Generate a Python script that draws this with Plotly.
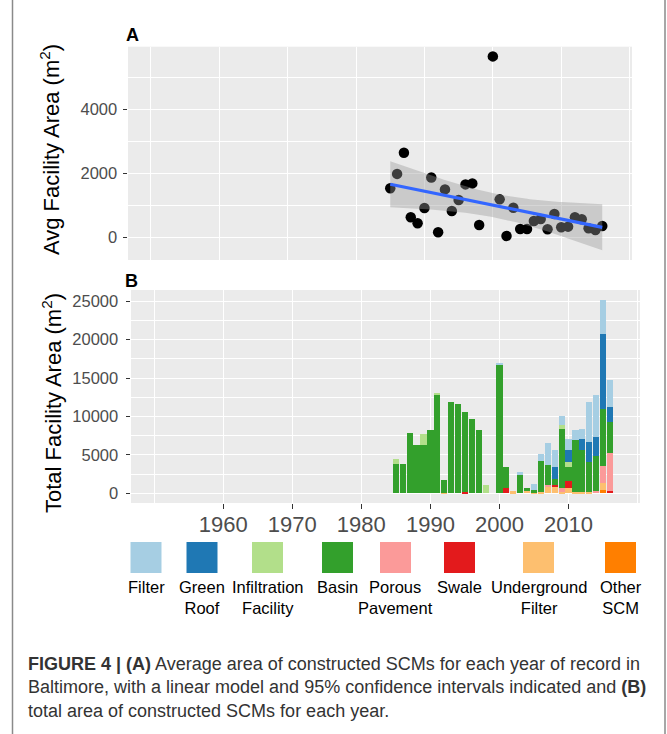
import numpy as np
import plotly.graph_objects as go

# ---------------- data ----------------
# Panel A: average facility area per year (m^2)
avg_years = [1985, 1986, 1987, 1988, 1989, 1990, 1991, 1992, 1993, 1994, 1995, 1996, 1997, 1998,
             2000, 2001, 2002, 2003, 2004, 2005, 2006, 2007, 2008, 2009, 2010, 2011, 2012, 2013,
             2014, 2015, 2016]
avg_area = [1540, 1990, 2650, 635, 448, 925, 1880, 168, 1507, 832, 1175, 1663, 1694, 396,
            5660, 1196, 53, 935, 271, 271, 520, 582, 261, 738, 323, 343, 635, 573,
            292, 240, 364]

# Panel B: total facility area per year by SCM type (m^2)
years = [1985, 1986, 1987, 1988, 1989, 1990, 1991, 1992, 1993, 1994, 1995, 1996, 1997, 1998,
         1999, 2000, 2001, 2002, 2003, 2004, 2005, 2006, 2007, 2008, 2009, 2010, 2011, 2012,
         2013, 2014, 2015, 2016]
filter_area = [0, 0, 0, 0, 0, 0, 0, 0, 0, 0, 0, 0, 0, 0,
               0, 220, 0, 0, 350, 0, 790, 830, 2910, 2260, 1090, 1440, 1300, 1260,
               5130, 5480, 4460, 3500]
green_roof = [0, 0, 0, 0, 0, 0, 0, 0, 0, 0, 0, 0, 0, 0,
              0, 0, 0, 0, 0, 0, 0, 0, 0, 1520, 0, 1520, 0, 1440,
              2610, 2390, 9740, 1960]
infiltration = [650, 0, 0, 0, 1390, 0, 210, 0, 0, 0, 0, 0, 0, 1090,
                0, 0, 0, 0, 0, 0, 0, 0, 0, 0, 560, 650, 0, 0,
                0, 0, 0, 0]
basin = [3830, 3870, 7870, 6300, 6350, 8220, 12830, 1660, 11870, 11610, 10400, 9700, 8260, 0,
         0, 16740, 2740, 0, 2390, 220, 350, 4060, 2610, 780, 7610, 1870, 6740, 5520,
         4000, 4560, 7430, 4040]
porous = [0, 0, 0, 0, 0, 0, 0, 0, 0, 0, 0, 0, 0, 0,
          0, 0, 0, 0, 0, 0, 0, 0, 310, 0, 520, 0, 0, 0,
          0, 350, 2270, 4960]
swale = [0, 0, 0, 0, 0, 0, 0, 0, 0, 0, 170, 0, 0, 0,
         0, 0, 740, 0, 0, 0, 0, 0, 0, 310, 0, 870, 0, 0,
         0, 0, 0, 260]
underground = [0, 0, 0, 0, 0, 0, 0, 80, 0, 0, 0, 0, 0, 0,
               0, 0, 0, 250, 0, 430, 80, 200, 780, 780, 220, 740, 220, 130,
               130, 0, 870, 0]
other_scm = [0, 0, 0, 0, 0, 0, 0, 0, 0, 0, 0, 0, 0, 0,
             0, 0, 0, 0, 0, 0, 0, 0, 0, 0, 0, 0, 0, 0,
             0, 0, 430, 0]

type_names = ["Filter", "Green Roof", "Infiltration Facility", "Basin", "Porous Pavement",
              "Swale", "Underground Filter", "Other SCM"]
type_labels = ["Filter", "Green<br>Roof", "Infiltration<br>Facility", "Basin", "Porous<br>Pavement",
               "Swale", "Underground<br>Filter", "Other<br>SCM"]
type_values = [filter_area, green_roof, infiltration, basin, porous, swale, underground, other_scm]
type_colors = ["#A6CEE3", "#1F78B4", "#B2DF8A", "#33A02C", "#FB9A99", "#E31A1C", "#FDBF6F", "#FF7F00"]

x_ticks_b = [1960, 1970, 1980, 1990, 2000, 2010]

# ---------------- geometry helpers ----------------
W, H = 667, 734
def fx(px):
    return px / W
def fy(py):
    return 1 - py / H

# ---------------- linear model with 95% CI ----------------
xa = np.array(avg_years, dtype=float)
ya = np.array(avg_area, dtype=float)
n = len(xa)
slope, intercept = np.polyfit(xa, ya, 1)
resid = ya - (slope * xa + intercept)
s = np.sqrt(np.sum(resid ** 2) / (n - 2))
xbar = xa.mean()
sxx = np.sum((xa - xbar) ** 2)
t975 = 2.045  # t quantile, df = 29
xs = np.linspace(xa.min(), xa.max(), 80)
fit = slope * xs + intercept
se = s * np.sqrt(1 / n + (xs - xbar) ** 2 / sxx)
upper = fit + t975 * se
lower = fit - t975 * se

ya_lo = min(lower.min(), ya.min())
ya_hi = max(upper.max(), ya.max())
pad_a = 0.05 * (ya_hi - ya_lo)
yrange_a = [ya_lo - pad_a, ya_hi + pad_a]

totals = np.sum(np.array(type_values), axis=0)
yrange_b = [-0.05 * totals.max(), 1.05 * totals.max()]
xrange_all = [1950 - 0.05 * 67, 2017 + 0.05 * 67]

fig = go.Figure()

# Panel A
fig.add_trace(go.Scatter(x=avg_years, y=avg_area, mode="markers",
                         marker=dict(color="black", size=10.5, line=dict(width=0)),
                         xaxis="x", yaxis="y", showlegend=False, hoverinfo="skip"))
fig.add_trace(go.Scatter(x=np.concatenate([xs, xs[::-1]]), y=np.concatenate([upper, lower[::-1]]),
                         fill="toself", fillcolor="rgba(153,153,153,0.4)", mode="lines",
                         line=dict(width=0), xaxis="x", yaxis="y", showlegend=False, hoverinfo="skip"))
fig.add_trace(go.Scatter(x=xs, y=fit, mode="lines", line=dict(color="#3366FF", width=3.2),
                         xaxis="x", yaxis="y", showlegend=False, hoverinfo="skip"))

# Panel B (stack bottom-up: reverse of legend order)
for name, vals, col in reversed(list(zip(type_names, type_values, type_colors))):
    fig.add_trace(go.Bar(x=years, y=vals, width=0.9, name=name, marker=dict(color=col, line=dict(width=0)),
                         xaxis="x2", yaxis="y2", showlegend=False))

grid_major = dict(showgrid=True, gridcolor="white", gridwidth=1.3, zeroline=False, showline=False)
tickfont = dict(family="Liberation Sans, Arial, sans-serif", size=16.5, color="#4D4D4D")

fig.update_layout(
    width=W, height=H, margin=dict(l=0, r=0, t=0, b=0),
    paper_bgcolor="white", plot_bgcolor="#EBEBEB",
    barmode="stack", showlegend=False,
    font=dict(family="Liberation Sans, Arial, sans-serif", color="black"),
    xaxis=dict(domain=[fx(128), fx(632)], range=xrange_all, anchor="y",
               tickvals=[1960, 1980, 2000, 2020], showticklabels=False, ticks="",
               minor=dict(tickvals=[1950, 1970, 1990, 2010], showgrid=True, gridcolor="white",
                          gridwidth=0.6, ticks=""),
               **grid_major),
    yaxis=dict(domain=[fy(260), fy(46.7)], range=yrange_a, anchor="x",
               tickvals=[0, 2000, 4000], ticktext=["0", "2000", "4000"],
               ticks="outside", ticklen=4.5, tickwidth=1.1, tickcolor="#333333",
               tickfont=tickfont, ticklabelstandoff=2,
               minor=dict(tickvals=[1000, 3000, 5000], showgrid=True, gridcolor="white",
                          gridwidth=0.6, ticks=""),
               **grid_major),
    xaxis2=dict(domain=[fx(131), fx(640)], range=xrange_all, anchor="y2",
                tickvals=x_ticks_b, ticktext=[str(v) for v in x_ticks_b],
                ticks="outside", ticklen=5, tickwidth=1.1, tickcolor="#333333",
                tickfont=dict(family="Liberation Sans, Arial, sans-serif", size=22, color="#4D4D4D"),
                ticklabelstandoff=-3,
                minor=dict(tickvals=[1950, 2020], showgrid=True, gridcolor="white",
                           gridwidth=0.6, ticks=""),
                **grid_major),
    yaxis2=dict(domain=[fy(503), fy(290)], range=yrange_b, anchor="x2",
                tickvals=[0, 5000, 10000, 15000, 20000, 25000],
                ticktext=["0", "5000", "10000", "15000", "20000", "25000"],
                ticks="outside", ticklen=4.5, tickwidth=1.1, tickcolor="#333333",
                tickfont=tickfont, ticklabelstandoff=4,
                minor=dict(tickvals=[2500, 7500, 12500, 17500, 22500], showgrid=True,
                           gridcolor="white", gridwidth=0.6, ticks=""),
                **grid_major),
)

annotations = []
# axis titles
annotations.append(dict(text="Avg Facility Area (m<sup>2</sup>)", x=fx(50), y=fy(150), xref="paper", yref="paper",
                        textangle=-90, showarrow=False, xanchor="center", yanchor="middle",
                        font=dict(size=22, color="black")))
annotations.append(dict(text="Total Facility Area (m<sup>2</sup>)", x=fx(52), y=fy(403), xref="paper", yref="paper",
                        textangle=-90, showarrow=False, xanchor="center", yanchor="middle",
                        font=dict(size=22, color="black")))
# panel letters
annotations.append(dict(text="<b>A</b>", x=fx(123.5), y=fy(34.5), xref="paper", yref="paper", showarrow=False,
                        xanchor="left", yanchor="middle", font=dict(size=18, color="black")))
annotations.append(dict(text="<b>B</b>", x=fx(123), y=fy(280.5), xref="paper", yref="paper", showarrow=False,
                        xanchor="left", yanchor="middle", font=dict(size=18, color="black")))

# legend (keys drawn as shapes, labels as text)
key_centers = [146, 202, 267.5, 337.5, 395.5, 459.5, 538.5, 620.5]
shapes = []
for cx, col, lab in zip(key_centers, type_colors, type_labels):
    shapes.append(dict(type="rect", xref="paper", yref="paper", x0=fx(cx - 15.5), x1=fx(cx + 15.5),
                       y0=fy(573), y1=fy(542), fillcolor=col, line=dict(width=0)))
    annotations.append(dict(text=lab, x=fx(cx), y=fy(576), xref="paper", yref="paper", showarrow=False,
                            xanchor="center", yanchor="top", align="center",
                            font=dict(size=16.5, color="black")))

# caption
caption = ("<b>FIGURE 4 | (A)</b> Average area of constructed SCMs for each year of record in<br>"
           "Baltimore, with a linear model and 95% confidence intervals indicated and <b>(B)</b><br>"
           "total area of constructed SCMs for each year.")
annotations.append(dict(text=caption, x=fx(26), y=fy(687), xref="paper", yref="paper", showarrow=False,
                        xanchor="left", yanchor="middle", align="left",
                        font=dict(family="Liberation Sans, Arial, sans-serif", size=18,
                                  color="#333333")))

# frame lines
for xp in [12.5, 665]:
    shapes.append(dict(type="line", xref="paper", yref="paper", x0=fx(xp), x1=fx(xp), y0=0, y1=1,
                       line=dict(color="#8a8a8a", width=1.5)))

fig.update_layout(annotations=annotations, shapes=shapes)
fig.write_html("out.html")
